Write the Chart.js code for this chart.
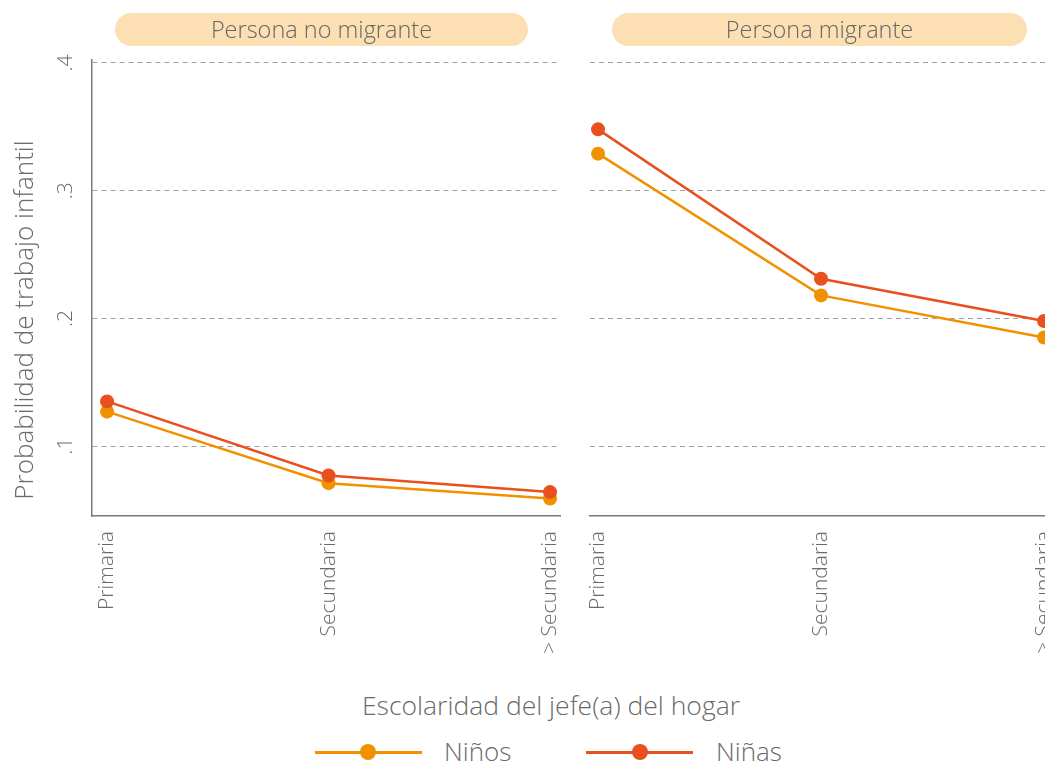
<!DOCTYPE html>
<html>
<head>
<meta charset="utf-8">
<script src="https://cdn.jsdelivr.net/npm/chart.js@4"></script>
<style>
  html, body { margin: 0; padding: 0; background: #fff; overflow: hidden; }
  #wrap { position: relative; width: 1045px; height: 765px; overflow: hidden; font-family: "Open Sans", sans-serif; color: #6a6a6a; }
  canvas { position: absolute; top: 0; }
  .pill { position: absolute; top: 13px; height: 33px; line-height: 33px; border-radius: 17px; background: #fcdfb2; text-align: center; font-size: 23.5px; font-weight: 300; color: #666; }
  .ytitle { position: absolute; left: -177px; top: 303px; width: 400px; height: 34px; line-height: 34px; text-align: center; font-size: 26px; transform: rotate(-90deg); font-weight: 300; }
  .xtitle { position: absolute; left: 251px; width: 600px; top: 687px; text-align: center; font-size: 26.5px; font-weight: 300; line-height: 36px; }
  .leg { position: absolute; top: 738px; height: 28px; }
  .leg .ln { position: absolute; top: 13px; height: 3px; width: 107px; }
  .leg .dot { position: absolute; top: 6px; width: 16px; height: 16px; border-radius: 50%; }
  .leg .tx { position: absolute; top: -5px; font-size: 26px; white-space: nowrap; font-weight: 300; line-height: 36px; }
</style>
</head>
<body>
<div id="wrap">
  <canvas id="left" width="600" height="680" style="left:0px"></canvas>
  <canvas id="right" width="520" height="680" style="left:570px"></canvas>
  <div class="pill" style="left:115px; width:413px">Persona no migrante</div>
  <div class="pill" style="left:612px; width:415px">Persona migrante</div>
  <div class="ytitle">Probabilidad de trabajo infantil</div>
  <div class="xtitle">Escolaridad del jefe(a) del hogar</div>
  <div class="leg" style="left:315px">
    <div class="ln" style="left:0; background:#f29100"></div>
    <div class="dot" style="left:45px; background:#f29100"></div>
    <div class="tx" style="left:129px">Niños</div>
  </div>
  <div class="leg" style="left:586px">
    <div class="ln" style="left:0; background:#e8501e"></div>
    <div class="dot" style="left:46px; background:#e8501e"></div>
    <div class="tx" style="left:130px">Niñas</div>
  </div>
</div>
<script>
// data
const categories = ['Primaria', 'Secundaria', '> Secundaria'];
const noMigranteNinos = [0.127, 0.071, 0.059];
const noMigranteNinas = [0.135, 0.077, 0.064];
const migranteNinos = [0.329, 0.218, 0.185];
const migranteNinas = [0.348, 0.231, 0.198];
const yTickValues = [0.1, 0.2, 0.3, 0.4];
const yTickLabels = ['.1', '.2', '.3', '.4'];

const orange = '#f29100';
const red = '#e8501e';
const textGray = '#6a6a6a';

const toPoints = arr => arr.map((v, i) => ({ x: i, y: v }));

// rotated y tick labels (Chart.js won't rotate y ticks)
const yLabelsPlugin = {
    id: 'yLabels',
    afterDraw(chart) {
        const ctx = chart.ctx;
        const y = chart.scales.y;
        ctx.save();
        ctx.fillStyle = textGray;
        ctx.font = '300 21px "Open Sans"';
        ctx.textAlign = 'center';
        ctx.textBaseline = 'middle';
        yTickValues.forEach((v, i) => {
            ctx.save();
            ctx.translate(chart.chartArea.left - 26, y.getPixelForValue(v));
            ctx.rotate(-Math.PI / 2);
            ctx.fillText(yTickLabels[i], 0, 0);
            ctx.restore();
        });
        ctx.restore();
    }
};

function makePanel(id, ninos, ninas, opts) {
    return new Chart(document.getElementById(id), {
        type: 'line',
        data: {
            datasets: [
                { label: 'Niñas', data: toPoints(ninas), borderColor: red, backgroundColor: red, order: 0 },
                { label: 'Niños', data: toPoints(ninos), borderColor: orange, backgroundColor: orange, order: 1 }
            ]
        },
        options: {
            responsive: false,
            animation: false,
            clip: false,
            layout: { padding: opts.padding },
            elements: {
                line: { borderWidth: 2.5, tension: 0 },
                point: { radius: 7, hoverRadius: 7, borderWidth: 0 }
            },
            plugins: { legend: { display: false }, tooltip: { enabled: false } },
            scales: {
                x: {
                    type: 'linear',
                    min: opts.xMin,
                    max: opts.xMax,
                    afterBuildTicks: s => { s.ticks = categories.map((c, i) => ({ value: i })); },
                    afterFit: s => { s.height = 164; },
                    grid: { display: false, drawTicks: false },
                    border: { display: true, color: '#7a7a7a', width: 1.5 },
                    ticks: {
                        minRotation: 90,
                        maxRotation: 90,
                        padding: 15,
                        color: textGray,
                        font: { family: 'Open Sans', size: 21, weight: '300' },
                        callback: v => categories[v]
                    }
                },
                y: {
                    min: 0.0453,
                    max: 0.4023,
                    afterBuildTicks: s => { s.ticks = yTickValues.map(v => ({ value: v })); },
                    afterFit: s => { s.width = opts.yWidth; },
                    ticks: { display: false },
                    grid: { color: '#a0a0a0', lineWidth: 1, drawTicks: false },
                    border: { display: opts.yBorder, color: '#7a7a7a', width: 1.5, dash: [5, 4] }
                }
            }
        },
        plugins: opts.plugins
    });
}

makePanel('left', noMigranteNinos, noMigranteNinas, {
    padding: { top: 60, right: 40, left: 0, bottom: 0 },
    xMin: -0.068, xMax: 2.045, yWidth: 92, yBorder: true, plugins: [yLabelsPlugin]
});

makePanel('right', migranteNinos, migranteNinas, {
    padding: { top: 60, right: 35, left: 20, bottom: 0 },
    xMin: -0.036, xMax: 2.049, yWidth: 0, yBorder: false, plugins: []
});
</script>
</body>
</html>
